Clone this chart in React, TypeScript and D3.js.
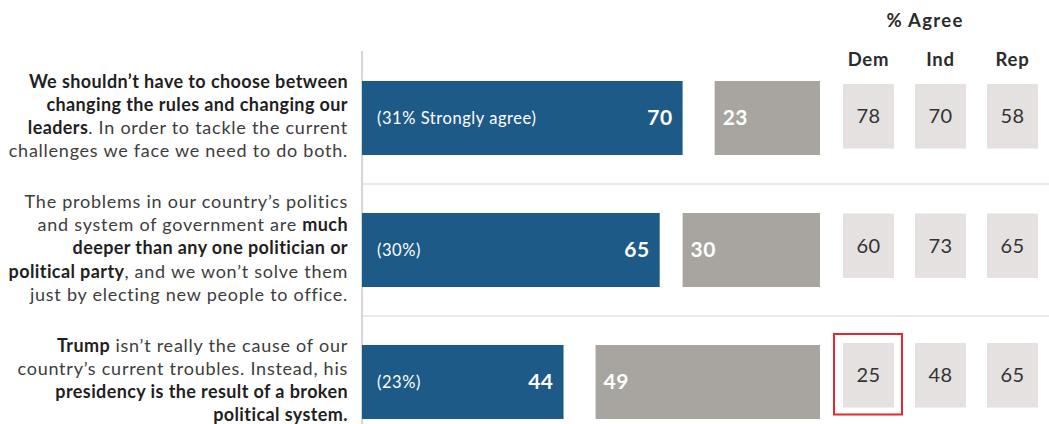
import React from "react";
import * as d3 from "d3";

const agree = [70, 65, 44];
const disagree = [23, 30, 49];
const strongLabels = ["(31% Strongly agree)", "(30%)", "(23%)"];
const parties = ["Dem", "Ind", "Rep"];
const demAgree = [78, 60, 25];
const indAgree = [70, 73, 48];
const repAgree = [58, 65, 65];
const headerTitle = "% Agree";
// statement lines: each line is a list of [text, bold]
const statements: [string, boolean][][][] = [
  [
    [["We shouldn\u2019t have to choose between", true]],
    [["changing the rules and changing our", true]],
    [["leaders", true], [". In order to tackle the current", false]],
    [["challenges we face we need to do both.", false]],
  ],
  [
    [["The problems in our country\u2019s politics", false]],
    [["and system of government are ", false], ["much", true]],
    [["deeper than any one politician or", true]],
    [["political party", true], [", and we won\u2019t solve them", false]],
    [["just by electing new people to office.", false]],
  ],
  [
    [["Trump", true], [" isn\u2019t really the cause of our", false]],
    [["country\u2019s current troubles. Instead, his", false]],
    [["presidency is the result of a broken", true]],
    [["political system.", true]],
  ],
];
const highlight = { row: 2, party: 0 };

const W = 1049;
const H = 424;
const FONT = "Lato, 'Open Sans', sans-serif";

export default function App() {
  const x = d3.scaleLinear().domain([0, 100]).range([362, 820]);
  const rows = d3.range(agree.length);
  const yBar = d3.scaleBand<number>().domain(rows).range([52, 448]).paddingInner(58 / 132).paddingOuter(29 / 132);
  const yBox = d3.scaleBand<number>().domain(rows).range([51.5, 440]).paddingInner(65 / 129.5).paddingOuter(32.5 / 129.5);
  const xParty = d3.scaleBand<string>().domain(parties).range([843, 1038]).paddingInner(21 / 72).paddingOuter(0);
  const partyVals = [demAgree, indAgree, repAgree];
  const bw = yBar.bandwidth();
  const lineH = 23.2;

  return (
    <svg width={W} height={H} style={{ position: "absolute", left: 0, top: 0, fontFamily: FONT }}>
      <rect width={W} height={H} fill="#fff" />
      {/* axis line */}
      <line x1={x(0)} x2={x(0)} y1={51} y2={H} stroke="#d6d6d6" strokeWidth={2} />
      {/* separators */}
      {rows.slice(1).map((i) => {
        const yy = ((yBar(i - 1) as number) + bw + (yBar(i) as number)) / 2;
        return <line key={i} x1={x(0) + 1} x2={W} y1={yy} y2={yy} stroke="#e2e2e2" strokeWidth={1.5} />;
      })}
      {/* header */}
      <text x={925} y={21} dy="0.35em" textAnchor="middle" fontSize={18.5} fontWeight={700} letterSpacing={1.3} fill="#2b2b2b">
        {headerTitle}
      </text>
      {parties.map((p) => (
        <text key={p} x={(xParty(p) as number) + xParty.bandwidth() / 2} y={60} dy="0.35em" textAnchor="middle" fontSize={18.5} fontWeight={700} letterSpacing={0.8} fill="#2b2b2b">
          {p}
        </text>
      ))}
      {rows.map((i) => {
        const y0 = yBar(i) as number;
        const cy = y0 + bw / 2;
        const lines = statements[i];
        const startY = cy - 2 - ((lines.length - 1) * lineH) / 2;
        return (
          <g key={i}>
            <rect x={x(0)} y={y0} width={x(agree[i]) - x(0)} height={bw} fill="#1e5a88" />
            <rect x={x(100 - disagree[i])} y={y0} width={x(100) - x(100 - disagree[i])} height={bw} fill="#a8a5a0" />
            <text x={x(0) + 15} y={cy} dy="0.35em" fontSize={16.5} letterSpacing={0.55} fill="#fff">
              {strongLabels[i]}
            </text>
            <text x={x(agree[i]) - 10} y={cy} dy="0.35em" textAnchor="end" fontSize={21} fontWeight={700} letterSpacing={0.5} fill="#fff">
              {agree[i]}
            </text>
            <text x={x(100 - disagree[i]) + 8} y={cy} dy="0.35em" fontSize={21} fontWeight={700} letterSpacing={0.5} fill="#fff">
              {disagree[i]}
            </text>
            {lines.map((segs, li) => (
              <text key={li} x={348} y={startY + li * lineH} dy="0.35em" textAnchor="end" fontSize={18}>
                {segs.map(([t, b], si) => (
                  <tspan key={si} fontWeight={b ? 700 : 400} letterSpacing={b ? 0.4 : 0.75} fill={b ? "#1f1f1f" : "#3d3d3d"} style={{ whiteSpace: "pre" }}>
                    {t}
                  </tspan>
                ))}
              </text>
            ))}
            {parties.map((p, pi) => {
              const bx = xParty(p) as number;
              const by = yBox(i) as number;
              return (
                <g key={p}>
                  <rect x={bx} y={by} width={xParty.bandwidth()} height={yBox.bandwidth()} fill="#e5e1e0" />
                  <text x={bx + xParty.bandwidth() / 2} y={by + yBox.bandwidth() / 2} dy="0.35em" textAnchor="middle" fontSize={20} letterSpacing={0.4} fill="#333">
                    {partyVals[pi][i]}
                  </text>
                  {highlight.row === i && highlight.party === pi && (
                    <rect x={bx - 9} y={by - 9} width={xParty.bandwidth() + 17} height={yBox.bandwidth() + 16} fill="none" stroke="#e3262f" strokeWidth={2} />
                  )}
                </g>
              );
            })}
          </g>
        );
      })}
    </svg>
  );
}
